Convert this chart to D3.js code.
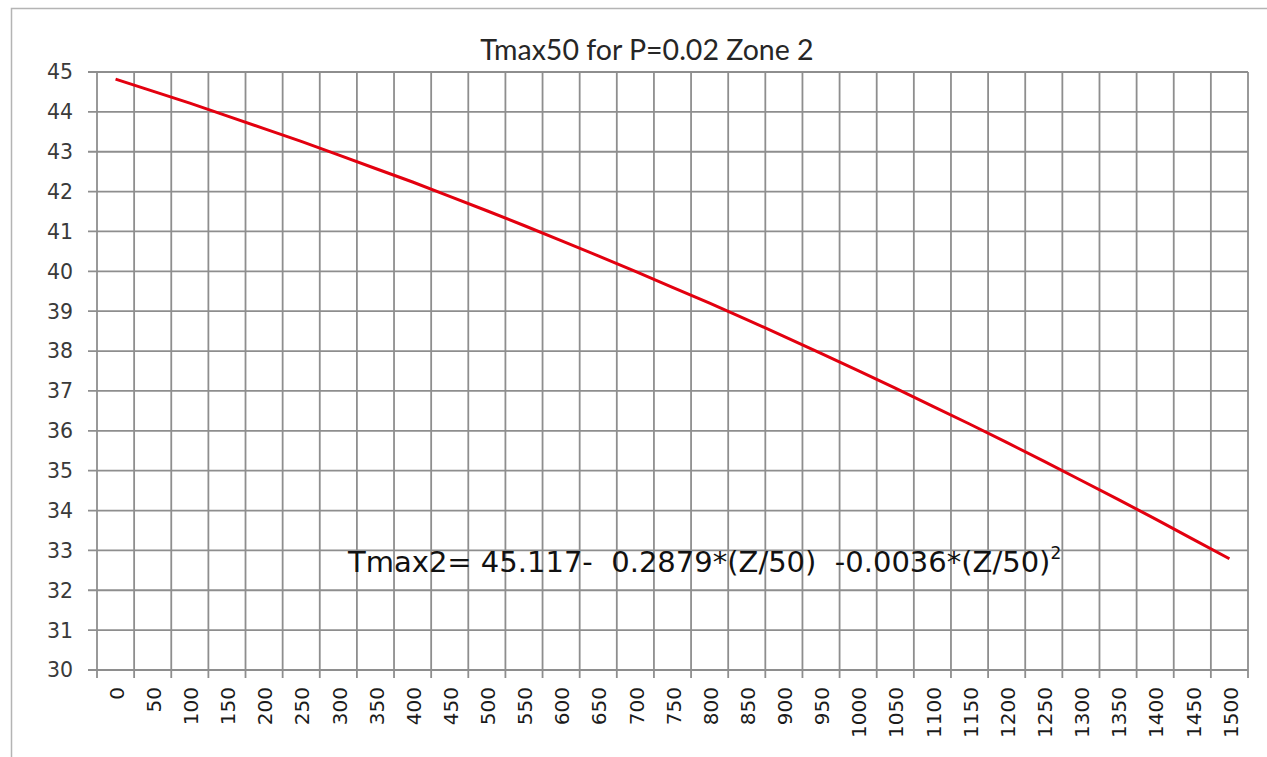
<!DOCTYPE html>
<html>
<head>
<meta charset="utf-8">
<script src="https://cdn.jsdelivr.net/npm/d3@7"></script>
<style>
  html, body { margin: 0; padding: 0; background: #fff; }
  svg { display: block; }
</style>
</head>
<body>
<svg id="chart" width="1267" height="757"></svg>
<script>
// altitude Z (m) - category labels on the x axis
const heights = [0, 50, 100, 150, 200, 250, 300, 350, 400, 450, 500, 550, 600, 650, 700, 750,
  800, 850, 900, 950, 1000, 1050, 1100, 1150, 1200, 1250, 1300, 1350, 1400, 1450, 1500]

// Tmax50, one per category
const tmax = [44.82, 44.52, 44.22, 43.90, 43.58, 43.26, 42.92, 42.58, 42.24, 41.88, 41.52,
  41.15, 40.77, 40.39, 40.00, 39.60, 39.20, 38.79, 38.37, 37.94, 37.51, 37.07, 36.62,
  36.17, 35.71, 35.24, 34.76, 34.28, 33.79, 33.29, 32.79]

const yTicks = [30, 31, 32, 33, 34, 35, 36, 37, 38, 39, 40, 41, 42, 43, 44, 45]

const titleText = 'Tmax50 for P=0.02 Zone 2'
const eqText = 'Tmax2= 45.117-  0.2879*(Z/50)  -0.0036*(Z/50)'

const margins = { left: 97, top: 72, right: 19, bottom: 87 }
const W = 1267, H = 757
const svg = d3.select('#chart')

// chart area frame (runs off the right/bottom of the picture)
svg.append('rect')
  .attr('x', 11.5).attr('y', 8.5)
  .attr('width', 1300).attr('height', 800)
  .attr('fill', '#fff')
  .attr('stroke', '#b4b4b4')
  .attr('stroke-width', 1.5)

const x = d3.scaleBand()
  .domain(heights)
  .range([margins.left, W - margins.right])
  .padding(0)

const y = d3.scaleLinear()
  .domain([30, 45])
  .range([H - margins.bottom, margins.top])

const gridColor = '#8e8e8e'
const g = svg.append('g')

// horizontal gridlines, with the little outside tick to the left
g.append('g')
  .selectAll('line')
  .data(yTicks)
  .enter()
  .append('line')
  .attr('x1', margins.left - 9)
  .attr('x2', W - margins.right)
  .attr('y1', (d) => y(d))
  .attr('y2', (d) => y(d))
  .attr('stroke', gridColor)
  .attr('stroke-width', 1.8)

// vertical gridlines sit on the category boundaries
const bounds = heights.map((h) => x(h)).concat([x(heights[heights.length - 1]) + x.bandwidth()])
g.append('g')
  .selectAll('line')
  .data(bounds)
  .enter()
  .append('line')
  .attr('x1', (d) => d)
  .attr('x2', (d) => d)
  .attr('y1', margins.top)
  .attr('y2', H - margins.bottom + 8)
  .attr('stroke', gridColor)
  .attr('stroke-width', 1.8)

// y axis labels
g.append('g')
  .selectAll('text')
  .data(yTicks)
  .enter()
  .append('text')
  .attr('x', 73)
  .attr('y', (d) => y(d))
  .attr('dy', '0.36em')
  .attr('text-anchor', 'end')
  .attr('font-family', 'DejaVu Sans')
  .attr('font-size', 20.5)
  .attr('fill', '#3a3a3a')
  .text((d) => d)

// x axis labels, rotated
g.append('g')
  .selectAll('text')
  .data(heights)
  .enter()
  .append('text')
  .attr('transform', (d) => `translate(${x(d) + x.bandwidth() / 2 + 1}, ${H - margins.bottom + 17}) rotate(-90)`)
  .attr('dy', '0.36em')
  .attr('text-anchor', 'end')
  .attr('font-family', 'DejaVu Sans')
  .attr('font-size', 20)
  .attr('fill', '#1a1a1a')
  .text((d) => d)

// the curve
const line = d3.line()
  .x((d, i) => x(heights[i]) + x.bandwidth() / 2)
  .y((d) => y(d))

g.append('path')
  .datum(tmax)
  .attr('d', line)
  .attr('fill', 'none')
  .attr('stroke', '#e3000f')
  .attr('stroke-width', 3)
  .attr('stroke-linejoin', 'round')

// title
svg.append('text')
  .attr('x', 647)
  .attr('y', 60)
  .attr('text-anchor', 'middle')
  .attr('font-family', 'Lato')
  .attr('font-size', 28.5)
  .attr('fill', '#262626')
  .text(titleText)

// equation label with superscript
const eq = svg.append('text')
  .attr('x', 348)
  .attr('y', 572)
  .attr('font-family', 'DejaVu Sans')
  .attr('font-size', 29)
  .attr('fill', '#111')
  .style('white-space', 'pre')
eq.append('tspan').text(eqText)
eq.append('tspan')
  .attr('dy', -13)
  .attr('font-size', 17)
  .text('2')
</script>
</body>
</html>
